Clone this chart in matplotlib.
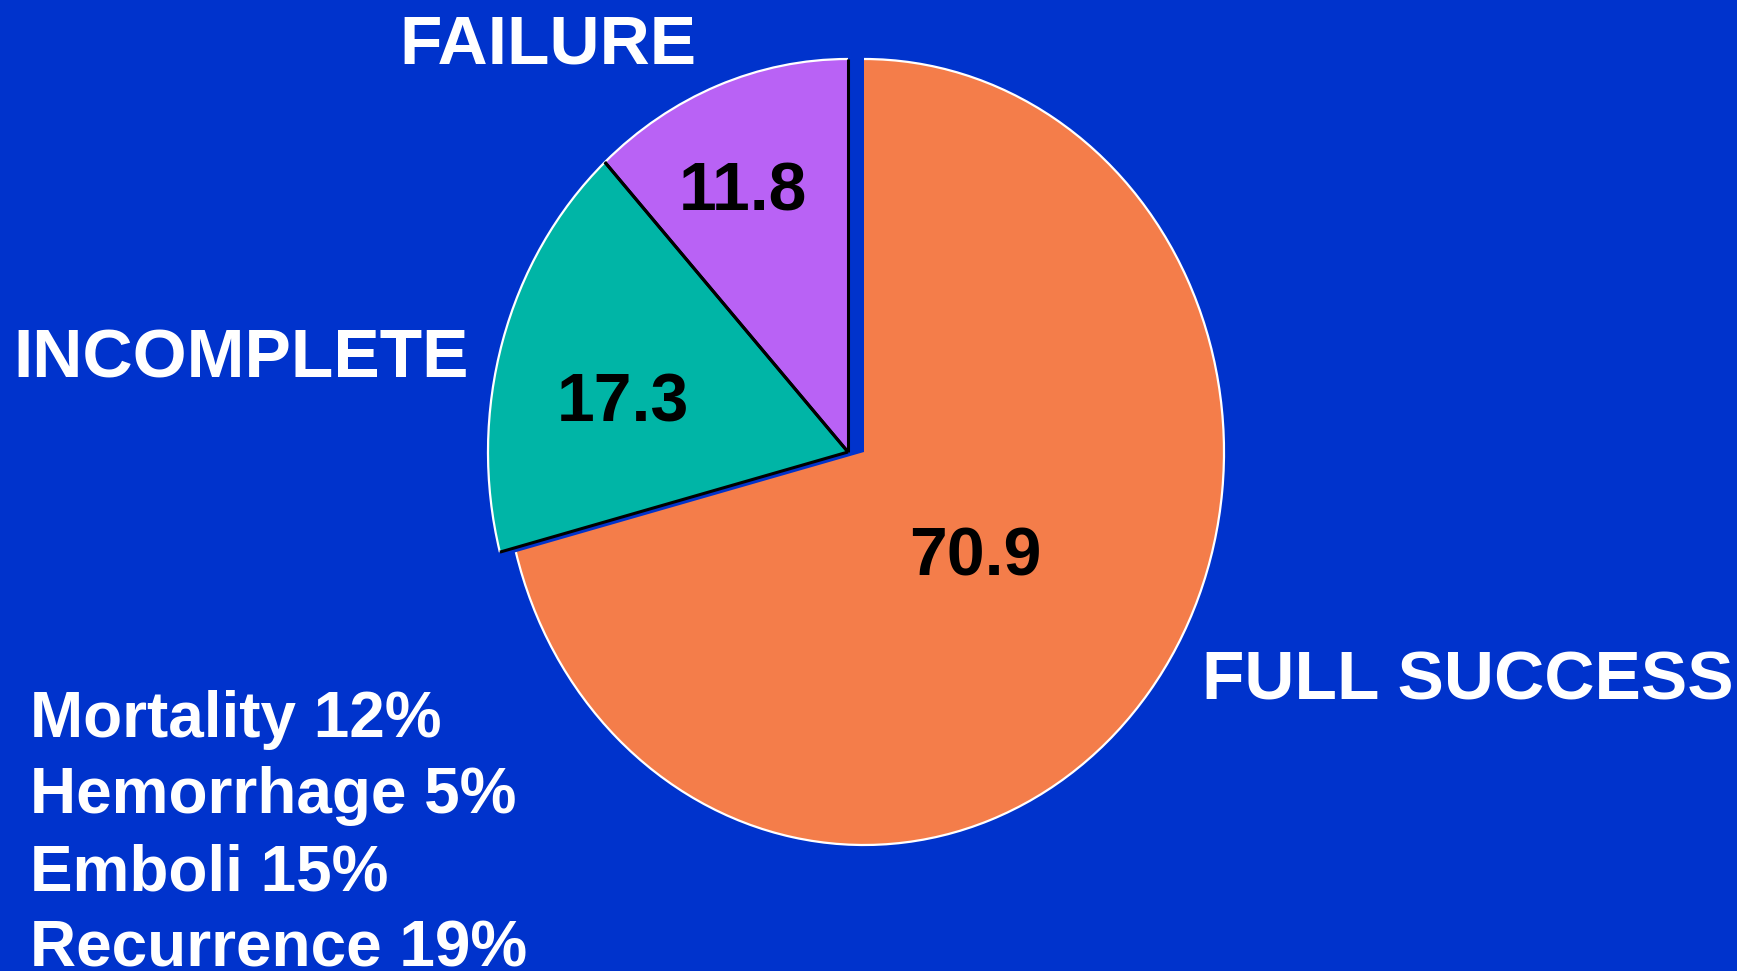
import numpy as np
import matplotlib
matplotlib.use('Agg')
from matplotlib import pyplot as plt
from matplotlib.patches import Arc

labels = ['FULL SUCCESS', 'INCOMPLETE', 'FAILURE']
values = [70.9, 17.3, 11.8]
colors = ['#F47D4A', '#00B5A6', '#B962F5']
notes = ['Mortality 12%', 'Hemorrhage 5%', 'Emboli 15%', 'Recurrence 19%']

bg = '#0033CC'
W, H = 1737, 971
plt.rcParams['font.family'] = ['Liberation Sans', 'DejaVu Sans']

fig = plt.figure(figsize=(W / 100, H / 100), dpi=100, facecolor=bg)
ax = fig.add_axes([0, 0, 1, 1])
ax.set_facecolor(bg)

# pie is a bit stretched vertically, like the slide
cx, cy = 848, 452      # pixel centre of the pie
rx, ry = 360, 393      # pixel radii
shift = 16 / rx        # orange slice pulled out to the right

wedges, _ = ax.pie(values, colors=colors, startangle=90, counterclock=False,
                   radius=1, center=(0, 0), wedgeprops=dict(linewidth=0))
wedges[0].set_center((shift, 0))

ax.set_aspect('auto')
ax.set_xlim(-cx / rx, (W - cx) / rx)
ax.set_ylim(-(H - cy) / ry, cy / ry)
ax.axis('off')

for i, w in enumerate(wedges):
    c = w.center
    ax.add_patch(Arc(c, 2, 2, theta1=w.theta1, theta2=w.theta2,
                     color='white', lw=1.6, zorder=3))
    if i > 0:
        for t in (w.theta1, w.theta2):
            a = np.radians(t)
            ax.plot([c[0], c[0] + np.cos(a)], [c[1], c[1] + np.sin(a)],
                    color='black', lw=2.2, zorder=4, solid_capstyle='butt')


def fx(x):
    return x / W


def fy(y):
    return 1 - y / H


# slice labels (pixel positions of baselines)
label_pos = [(1468, 699, 'center'), (13, 377, 'left'), (548, 63, 'center')]
for lab, (x, y, ha) in zip(labels, label_pos):
    fig.text(fx(x), fy(y), lab, color='white', fontsize=50, fontweight='bold',
             ha=ha, va='baseline')

value_pos = [(975, 575), (623, 422), (743, 210)]
for v, (x, y) in zip(values, value_pos):
    fig.text(fx(x), fy(y), f'{v:.1f}', color='black', fontsize=49,
             fontweight='bold', ha='center', va='baseline')

for i, n in enumerate(notes):
    fig.text(fx(30), fy(737 + i * 76.5), n, color='white', fontsize=46,
             fontweight='bold', ha='left', va='baseline')

fig.savefig('out.png', dpi=100, facecolor=bg)
